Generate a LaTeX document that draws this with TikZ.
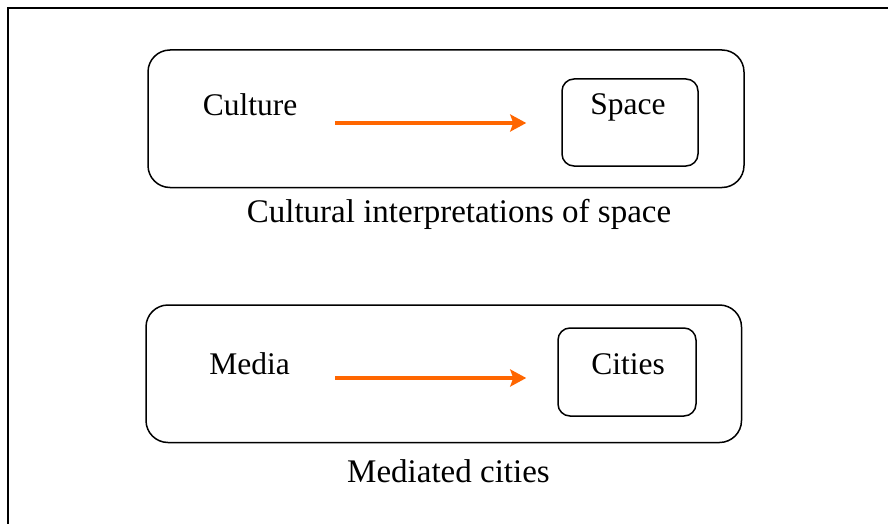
\documentclass[tikz,border=0pt]{standalone}
\usepackage{fontspec}
\setmainfont{Liberation Serif}
\usetikzlibrary{arrows.meta}
\definecolor{arroworange}{HTML}{FF6600}
\begin{document}
\begin{tikzpicture}[x=1pt,y=-1pt,
  outerbox/.style={draw,line width=1.5pt,rounded corners=22pt},
  innerbox/.style={draw,line width=1.5pt,rounded corners=12pt},
  lbl/.style={inner sep=0pt,anchor=base,font=\fontsize{31.5}{36}\selectfont},
  caption/.style={lbl,font=\fontsize{33}{38}\selectfont},
  flow/.style={draw=arroworange,line width=4pt,
    -{Stealth[length=16pt,width=17pt,inset=3pt]}}]
\useasboundingbox (0,0) rectangle (888,524);
% frame (top and left edges only)
\draw[line width=2pt] (888,8.5) -- (7.7,8.5) -- (7.7,524);

% upper panel
\draw[outerbox] (148,50) rectangle (744,187.5);
\node[innerbox,minimum width=136pt,minimum height=87pt] (spacebox) at (630,122.5) {};
\node[lbl] (culture) at (250,116) {Culture};
\node[lbl] (space) at (628,115) {Space};
\coordinate (cstart) at (335,123);
\draw[flow] (cstart) -- ([xshift=-35pt]cstart -| spacebox.west);
\node[caption] (cap1) at (459,222) {Cultural interpretations of space};

% lower panel
\draw[outerbox] (146,305) rectangle (741.5,442.5);
\node[innerbox,minimum width=138pt,minimum height=88pt] (citiesbox) at (627,372) {};
\node[lbl] (media) at (249.5,374) {Media};
\node[lbl] (cities) at (628,374) {Cities};
\coordinate (mstart) at (335,378);
\draw[flow] (mstart) -- ([xshift=-31pt]mstart -| citiesbox.west);
\node[caption] (cap2) at (448.5,482) {Mediated cities};
\end{tikzpicture}
\end{document}
